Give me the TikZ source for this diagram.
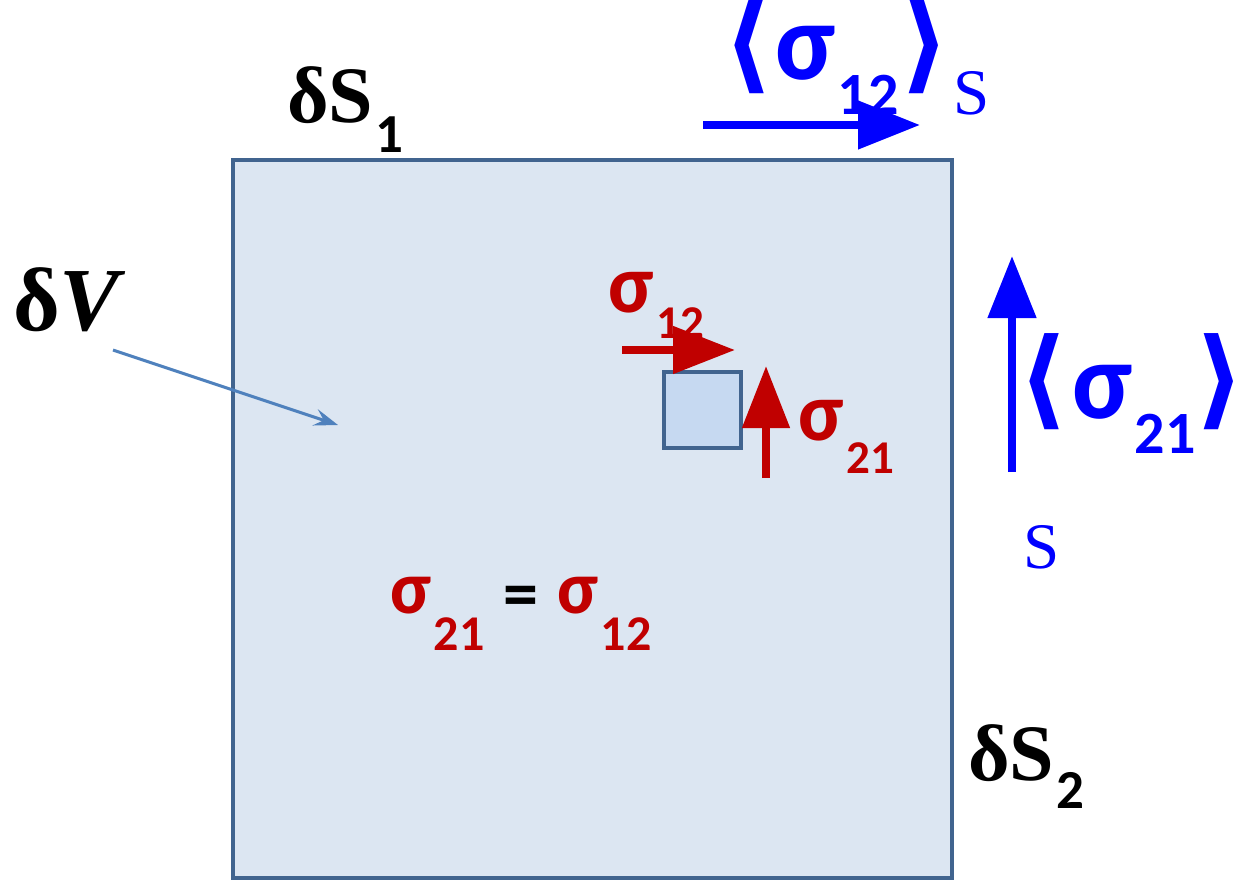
\documentclass[tikz,border=0pt]{standalone}
\usepackage{fontspec}
\usetikzlibrary{arrows.meta}
\newfontfamily\carlito{Carlito}
\newfontfamily\libserif{Liberation Serif}
\newfontfamily\dejavu{DejaVu Sans}
\definecolor{volfill}{HTML}{DCE6F2}
\definecolor{voldraw}{HTML}{41648F}
\definecolor{celfill}{HTML}{C6D9F1}
\definecolor{tensred}{HTML}{C00000}
\definecolor{mediablue}{HTML}{0000FF}
\definecolor{ponteirocor}{HTML}{4F81BD}
\newcommand{\setfs}[1]{\fontsize{#1}{#1}\selectfont}
% sigma com indice: tamanho, indice, tamanho do indice, descida
\newcommand{\sigsub}[4]{{\carlito\bfseries\setfs{#1}σ}\kern3pt\raisebox{-#4pt}{\carlito\bfseries\setfs{#3}#2}}
% delta S com indice
\newcommand{\dsub}[3]{{\libserif\bfseries\setfs{80}δS}\kern2pt\raisebox{-#3pt}{\carlito\bfseries\setfs{#2}#1}}
\begin{document}
\begin{tikzpicture}[x=1pt, y=-1pt,
  every node/.style={inner sep=0pt, outer sep=0pt},
  volume/.style={draw=voldraw, line width=4pt, fill=volfill},
  celula/.style={draw=voldraw, line width=4pt, fill=celfill},
  setaAzul/.style={mediablue, line width=8pt, -{Triangle[length=62pt, width=47pt]}},
  setaVermelha/.style={tensred, line width=8pt, -{Triangle[length=62pt, width=46pt]}},
  ponteiro/.style={ponteirocor, line width=3pt, -{Stealth[length=24pt, width=17pt, inset=9pt]}},
  textoPreto/.style={anchor=base west, black},
  textoAzul/.style={anchor=base west, mediablue},
  textoVermelho/.style={anchor=base west, tensred},
  colchete/.style={anchor=center, mediablue, font=\dejavu\bfseries\setfs{108}}
]
\useasboundingbox (0,0) rectangle (1239,880);
% Volume e elemento
\draw[volume] (233,160) rectangle (952,878);
\draw[celula] (664,372) rectangle (741,448);
% Rotulos pretos
\node[textoPreto] (dS1) at (287,123) {\dsub{1}{55}{30}};
\node[textoPreto] (dS2) at (968,780) {\dsub{2}{55}{28}};
\node[textoPreto] (dV) at (13,330) {{\libserif\bfseries\setfs{90}δ\itshape V}};
% Medias na superficie
\node[colchete] (abre1) at (748,46) {⟨};
\node[textoAzul] (media12) at (775,80) {\sigsub{110}{12}{60}{35}};
\node[colchete] (fecha1) at (925,46) {⟩};
\node[textoAzul, font=\libserif\setfs{65}] (sub1) at (953,115) {S};
\node[colchete] (abre2) at (1043,382) {⟨};
\node[textoAzul] (media21) at (1072,418) {\sigsub{110}{21}{60}{35}};
\node[colchete] (fecha2) at (1220,382) {⟩};
\node[textoAzul, font=\libserif\setfs{65}] (sub2) at (1023,568) {S};
% Tensoes locais
\node[textoVermelho] (tens12) at (608,312) {\sigsub{83}{12}{47}{26}};
\node[textoVermelho] (tens21) at (798,440) {\sigsub{83}{21}{47}{33}};
\node[textoVermelho] (igualA) at (390,613) {\sigsub{75}{21}{50}{37}};
\node[textoPreto, font=\carlito\bfseries\setfs{70}] (igual) at (503,617) {=};
\node[textoVermelho] (igualB) at (557,613) {\sigsub{75}{12}{50}{37}};
% Setas
\coordinate (azulH0) at (703,125);
\coordinate (azulH1) at (920,125);
\coordinate (azulV0) at (1012,472);
\coordinate (azulV1) at (1012,256);
\coordinate (vermH0) at (622,350);
\coordinate (vermH1) at (735,350);
\coordinate (vermV0) at (766,478);
\coordinate (vermV1) at (766,366);
\coordinate (ponta0) at (113,350);
\coordinate (ponta1) at (338,425);
\draw[setaAzul] (azulH0) -- (azulH1);
\draw[setaAzul] (azulV0) -- (azulV1);
\draw[setaVermelha] (vermH0) -- (vermH1);
\draw[setaVermelha] (vermV0) -- (vermV1);
\draw[ponteiro] (ponta0) -- (ponta1);
\end{tikzpicture}
\end{document}
